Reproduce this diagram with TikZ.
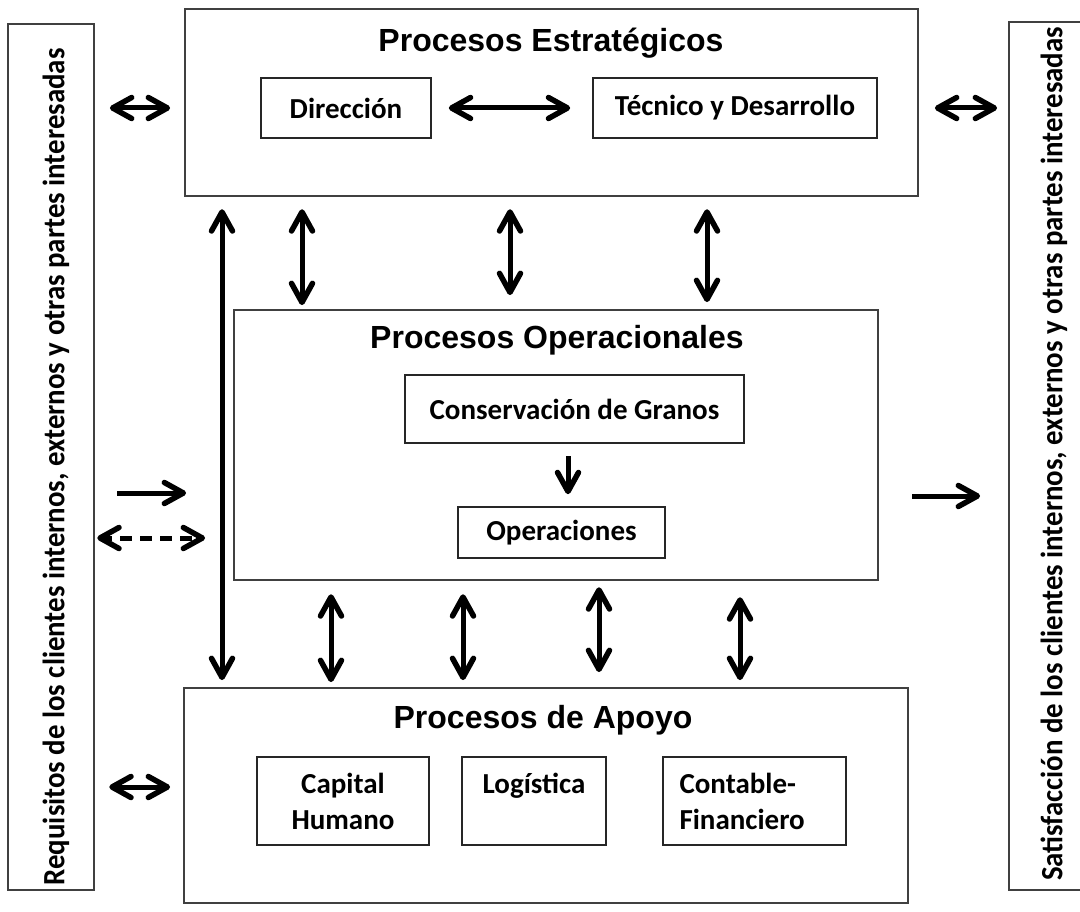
\documentclass[tikz,border=0pt]{standalone}
\usepackage{fontspec}
\setmainfont{Carlito}
\newfontfamily\arialf{Liberation Sans}
\usetikzlibrary{calc,decorations.markings}
\begin{document}
\begin{tikzpicture}[x=1pt,y=-1pt,
  frame/.style={draw=black!75, line width=1.3pt, inner sep=0pt},
  ibox/.style={draw=black!85, line width=1.1pt, inner sep=0pt, font=\fontsize{29}{36}\selectfont\bfseries, align=center},
  ttl/.style={font=\arialf\fontsize{32}{36}\selectfont\bfseries},
  side/.style={rotate=90, font=\fontsize{31}{34}\selectfont\bfseries},
  shaft/.style={line width=5pt},
  headE/.style={postaction={decorate, decoration={markings, mark=at position 1 with {\draw[solid, line width=5.5pt, line cap=round, line join=round] (-19pt,10.5pt) -- (0pt,0pt) -- (-19pt,-10.5pt);}}}},
  headS/.style={postaction={decorate, decoration={markings, mark=at position 0 with {\draw[solid, line width=5.5pt, line cap=round, line join=round] (19pt,10.5pt) -- (0pt,0pt) -- (19pt,-10.5pt);}}}},
  arr/.style={shaft, headE},
  dbl/.style={shaft, headE, headS},
]
\useasboundingbox (0,0) rectangle (1080,912);
\clip (0,0) rectangle (1080,912);

% side boxes
\node[frame, minimum width=86pt, minimum height=866pt] (leftbox) at (51,457) {};
\node[side] (lefttxt) at (56,467) {\scalebox{0.93}[1]{Requisitos de los clientes internos, externos y otras partes interesadas}};
\node[frame, minimum width=88pt, minimum height=868pt] (rightbox) at (1053,456) {};
\node[side] (righttxt) at (1054,454) {\scalebox{0.93}[1]{Satisfacción de los clientes internos, externos y otras partes interesadas}};

% strategic
\node[frame, minimum width=733pt, minimum height=187pt] (strat) at (551.5,102.5) {};
\node[ttl] (strattl) at (551,43) {Procesos Estratégicos};
\node[ibox, minimum width=170pt, minimum height=60pt] (dir) at (346,108) {Dirección};
\node[ibox, minimum width=284pt, minimum height=60pt] (tec) at (735,108) {Técnico y Desarrollo};

% operational
\node[frame, minimum width=644pt, minimum height=270pt] (oper) at (556,445) {};
\node[ttl] (opertl) at (557,340) {Procesos Operacionales};
\node[ibox, minimum width=339pt, minimum height=68pt] (cons) at (574.5,409) {Conservación de Granos};
\node[ibox, minimum width=207pt, minimum height=51pt] (ops) at (561.5,532.5) {Operaciones};

% support
\node[frame, minimum width=724pt, minimum height=215pt] (apoyo) at (546,795.5) {};
\node[ttl] (apoyotl) at (543,720) {Procesos de Apoyo};
\node[ibox, minimum width=172pt, minimum height=88pt] (cap) at (343,801) {Capital\\Humano};
\node[ibox, minimum width=144pt, minimum height=88pt] (log) at (534,801) {Logística\\\mbox{}};
\node[ibox, minimum width=183pt, minimum height=88pt, align=left, text width=150pt] (cont) at (754.5,801) {Contable-\\Financiero};

% horizontal connectors
\draw[dbl] ($(leftbox.east |- dir.center)+(18,0)$) -- ($(strat.west |- dir.center)+(-17,0)$);
\draw[dbl] ($(strat.east |- dir.center)+(19,0)$) -- ($(rightbox.west |- dir.center)+(-14,0)$);
\draw[dbl] ($(dir.east)+(20,0)$) -- ($(tec.west)+(-25,0)$);
\coordinate (lsolid) at (94,493);
\draw[arr] ($(lsolid)+(23,0)$) -- ($(oper.west |- lsolid)+(-50,0)$);
\coordinate (ldash) at (94,538);
\draw[dbl, dash pattern=on 12pt off 8pt] ($(ldash)+(6,0)$) -- ($(oper.west |- ldash)+(-31,0)$);
\coordinate (rsolid) at (878,496);
\draw[arr] ($(rsolid)+(34,0)$) -- ($(rightbox.west |- rsolid)+(-31,0)$);
\coordinate (lbot) at (94,787);
\draw[dbl] ($(lbot)+(18,0)$) -- ($(apoyo.west |- lbot)+(-16,0)$);

% vertical connectors strategic - operational
\coordinate (v1) at (302,196);
\coordinate (v2) at (510,196);
\coordinate (v3) at (707,196);
\draw[dbl] ($(v1)+(0,16)$) -- ($(v1 |- oper.north)+(0,-7)$);
\draw[dbl] ($(v2)+(0,16)$) -- ($(v2 |- oper.north)+(0,-17)$);
\draw[dbl] ($(v3)+(0,16)$) -- ($(v3 |- oper.north)+(0,-10)$);
% long strategic - support
\coordinate (vl) at (222,196);
\draw[dbl] ($(vl)+(0,16)$) -- ($(vl |- apoyo.north)+(0,-10)$);
% operational - support
\coordinate (w1) at (331,580);
\coordinate (w2) at (463,580);
\coordinate (w3) at (599,580);
\coordinate (w4) at (740,580);
\draw[dbl] ($(w1)+(0,17)$) -- ($(w1 |- apoyo.north)+(0,-8)$);
\draw[dbl] ($(w2)+(0,17)$) -- ($(w2 |- apoyo.north)+(0,-10)$);
\draw[dbl] ($(w3)+(0,10)$) -- ($(w3 |- apoyo.north)+(0,-18)$);
\draw[dbl] ($(w4)+(0,20)$) -- ($(w4 |- apoyo.north)+(0,-10)$);
% inside operational
\coordinate (dn) at (568,443);
\draw[arr] ($(dn)+(0,13)$) -- ($(dn |- ops.north)+(0,-15)$);
\end{tikzpicture}
\end{document}
